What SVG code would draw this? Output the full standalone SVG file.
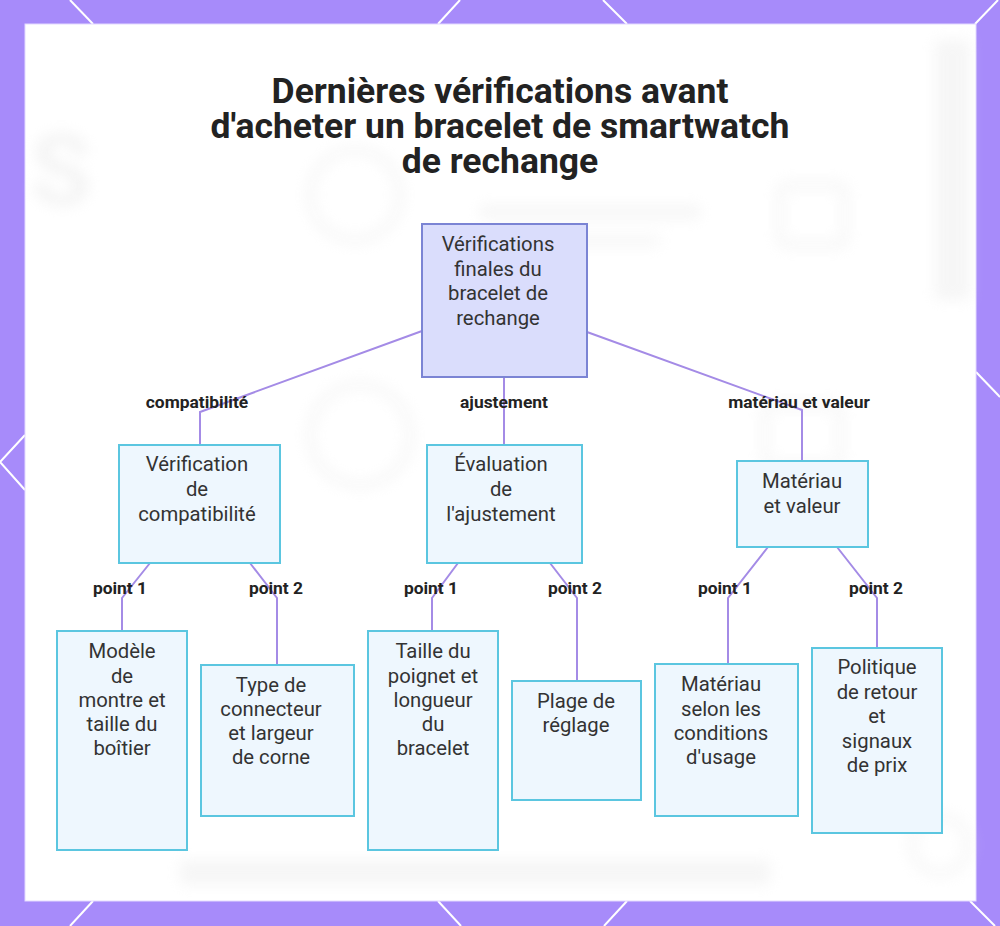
<svg xmlns="http://www.w3.org/2000/svg" width="1000" height="926" viewBox="0 0 1000 926">
  <defs>
    <filter id="blur" x="-20%" y="-20%" width="140%" height="140%">
      <feGaussianBlur stdDeviation="7"/>
    </filter>
    <style>
      .title { font-family: Roboto, "Liberation Sans", sans-serif; font-weight: 700; font-size: 35.5px; fill: #222; text-anchor: middle; }
      .ntext { font-family: Roboto, "Liberation Sans", sans-serif; font-size: 20.3px; fill: #333; text-anchor: middle; }
      .elabel { font-family: Roboto, "Liberation Sans", sans-serif; font-weight: 700; font-size: 17.4px; fill: #222; text-anchor: middle; }
      .root { fill: #DADDFC; stroke: #7B84D4; stroke-width: 2; }
      .node { fill: #EEF7FE; stroke: #5BC6E0; stroke-width: 2; }
      .edge { fill: none; stroke: #A48BE6; stroke-width: 2; }
      .border { stroke: #FFFFFF; stroke-width: 2; fill: none; }
      .faint { fill: none; stroke: #E6E6E6; stroke-width: 8; }
    </style>
  </defs>

  <!-- frame -->
  <rect x="0" y="0" width="1000" height="926" fill="#A78BFA"/>
  <g class="border">
    <line x1="70" y1="0" x2="93" y2="24"/>
    <line x1="460" y1="0" x2="438" y2="24"/>
    <line x1="603" y1="0" x2="627" y2="24"/>
    <line x1="998" y1="0" x2="975" y2="24"/>
    <line x1="93" y1="901" x2="70" y2="926"/>
    <line x1="438" y1="901" x2="461" y2="926"/>
    <line x1="627" y1="901" x2="604" y2="926"/>
    <line x1="970" y1="901" x2="995" y2="926"/>
    <polyline points="25,435 0,462 25,490"/>
    <line x1="976" y1="372" x2="1000" y2="397"/>
  </g>
  <rect x="25" y="24" width="951" height="877" fill="#FFFFFF" stroke="#E4DAFF" stroke-width="1"/>

  <!-- faint background -->
  <g filter="url(#blur)" opacity="0.35">
    <text x="30" y="205" font-family="Roboto, 'Liberation Sans', sans-serif" font-weight="700" font-size="100" fill="#E0E0E0">S</text>
    <circle cx="355" cy="195" r="45" class="faint"/>
    <rect x="780" y="185" width="65" height="60" rx="8" class="faint"/>
    <rect x="480" y="205" width="220" height="14" fill="#E6E6E6"/>
    <rect x="480" y="235" width="180" height="12" fill="#EAEAEA"/>
    <circle cx="360" cy="435" r="50" class="faint"/>
    <rect x="765" y="405" width="75" height="60" rx="8" class="faint"/>
    <rect x="180" y="860" width="590" height="25" fill="#E6E6E6"/>
    <rect x="935" y="40" width="35" height="260" fill="#E6E6E6"/>
    <circle cx="940" cy="845" r="28" class="faint"/>
  </g>

  <!-- title -->
  <g id="title">
    <text class="title" x="500" y="103">Dernières vérifications avant</text>
    <text class="title" x="500" y="138">d'acheter un bracelet de smartwatch</text>
    <text class="title" x="500" y="173">de rechange</text>
  </g>

  <!-- connectors -->
  <g id="connectors">
    <polyline class="edge" points="422,331 200,412 200,445"/>
    <line class="edge" x1="504" y1="377" x2="504" y2="445"/>
    <polyline class="edge" points="587,332 802,410 802,461"/>
    <polyline class="edge" points="150,563 122,598 122,631"/>
    <polyline class="edge" points="250,563 277,598 277,665"/>
    <polyline class="edge" points="458,563 432,598 432,631"/>
    <polyline class="edge" points="550,563 577,598 577,681"/>
    <polyline class="edge" points="768,547 728,598 728,664"/>
    <polyline class="edge" points="837,547 877,598 877,648"/>
  </g>

  <!-- edge labels -->
  <g id="edge-labels">
    <text class="elabel" x="197" y="408">compatibilité</text>
    <text class="elabel" x="504" y="408">ajustement</text>
    <text class="elabel" x="799" y="408">matériau et valeur</text>
    <text class="elabel" x="120" y="594">point 1</text>
    <text class="elabel" x="276" y="594">point 2</text>
    <text class="elabel" x="431" y="594">point 1</text>
    <text class="elabel" x="575" y="594">point 2</text>
    <text class="elabel" x="725" y="594">point 1</text>
    <text class="elabel" x="876" y="594">point 2</text>
  </g>

  <!-- nodes -->
  <g id="root">
    <rect class="root" x="422" y="224" width="165" height="153"/>
    <text class="ntext" x="498" y="251">Vérifications</text>
    <text class="ntext" x="498" y="276">finales du</text>
    <text class="ntext" x="498" y="300">bracelet de</text>
    <text class="ntext" x="498" y="325">rechange</text>
  </g>
  <g id="compat">
    <rect class="node" x="119" y="445" width="161" height="118"/>
    <text class="ntext" x="197" y="471">Vérification</text>
    <text class="ntext" x="197" y="496">de</text>
    <text class="ntext" x="197" y="521">compatibilité</text>
  </g>
  <g id="ajust">
    <rect class="node" x="427" y="445" width="155" height="118"/>
    <text class="ntext" x="501" y="471">Évaluation</text>
    <text class="ntext" x="501" y="496">de</text>
    <text class="ntext" x="501" y="521">l'ajustement</text>
  </g>
  <g id="materiau">
    <rect class="node" x="737" y="461" width="131" height="86"/>
    <text class="ntext" x="802" y="488">Matériau</text>
    <text class="ntext" x="802" y="513">et valeur</text>
  </g>
  <g id="modele">
    <rect class="node" x="57" y="631" width="130" height="219"/>
    <text class="ntext" x="122" y="658">Modèle</text>
    <text class="ntext" x="122" y="683">de</text>
    <text class="ntext" x="122" y="707">montre et</text>
    <text class="ntext" x="122" y="731">taille du</text>
    <text class="ntext" x="122" y="755">boîtier</text>
  </g>
  <g id="connecteur">
    <rect class="node" x="201" y="665" width="153" height="151"/>
    <text class="ntext" x="271" y="692">Type de</text>
    <text class="ntext" x="271" y="716">connecteur</text>
    <text class="ntext" x="271" y="740">et largeur</text>
    <text class="ntext" x="271" y="764">de corne</text>
  </g>
  <g id="poignet">
    <rect class="node" x="368" y="631" width="130" height="219"/>
    <text class="ntext" x="433" y="658">Taille du</text>
    <text class="ntext" x="433" y="683">poignet et</text>
    <text class="ntext" x="433" y="707">longueur</text>
    <text class="ntext" x="433" y="731">du</text>
    <text class="ntext" x="433" y="755">bracelet</text>
  </g>
  <g id="plage">
    <rect class="node" x="512" y="681" width="129" height="119"/>
    <text class="ntext" x="576" y="708">Plage de</text>
    <text class="ntext" x="576" y="732">réglage</text>
  </g>
  <g id="usage">
    <rect class="node" x="655" y="664" width="143" height="152"/>
    <text class="ntext" x="721" y="691">Matériau</text>
    <text class="ntext" x="721" y="716">selon les</text>
    <text class="ntext" x="721" y="740">conditions</text>
    <text class="ntext" x="721" y="764">d'usage</text>
  </g>
  <g id="politique">
    <rect class="node" x="812" y="648" width="130" height="185"/>
    <text class="ntext" x="877" y="674">Politique</text>
    <text class="ntext" x="877" y="699">de retour</text>
    <text class="ntext" x="877" y="723">et</text>
    <text class="ntext" x="877" y="748">signaux</text>
    <text class="ntext" x="877" y="772">de prix</text>
  </g>
</svg>
